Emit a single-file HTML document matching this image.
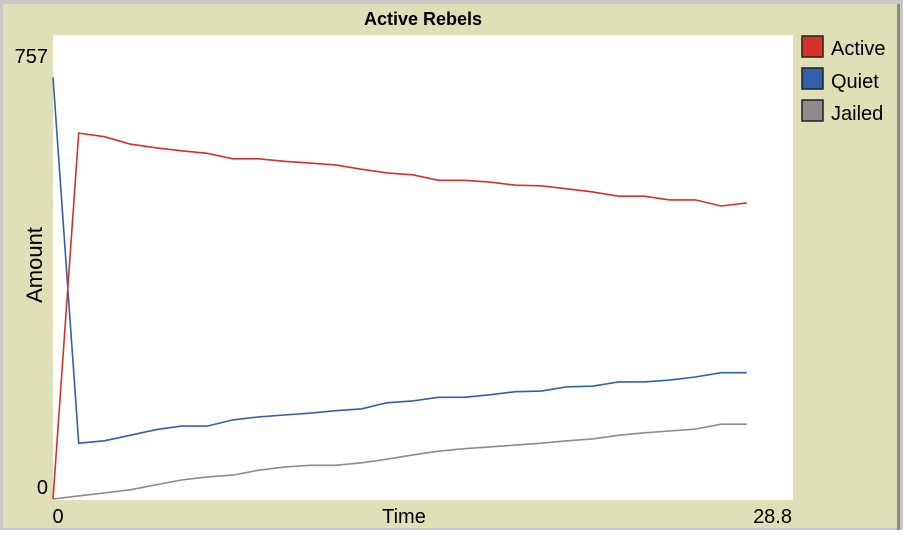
<!DOCTYPE html>
<html><head><meta charset="utf-8"><style>
body{margin:0;width:903px;height:530px;overflow:hidden;background:#fff;font-family:"Liberation Sans","DejaVu Sans",sans-serif}
</style></head><body>
<svg width="903" height="530" xmlns="http://www.w3.org/2000/svg">
<rect x="0" y="0" width="903" height="530" fill="#c8c8c8"/>
<rect x="3" y="4" width="894" height="524" fill="#dfdfb8"/>
<rect x="897" y="4" width="3" height="526" fill="#8a8a78"/>
<text x="423" y="25" text-anchor="middle" font-size="18" font-weight="bold">Active Rebels</text>
<rect x="53" y="35" width="740" height="465" fill="#fff"/>
<text x="48" y="63" text-anchor="end" font-size="20">757</text>
<text x="48" y="494" text-anchor="end" font-size="20">0</text>
<text x="58" y="523" text-anchor="middle" font-size="20">0</text>
<text x="792" y="523" text-anchor="end" font-size="20">28.8</text>
<text x="404" y="523" text-anchor="middle" font-size="20">Time</text>
<text transform="translate(42,265) rotate(-90)" text-anchor="middle" font-size="22">Amount</text>
<g id="series"></g>
<g>
<rect x="802" y="36" width="21" height="21" fill="#d8302a" stroke="#222" stroke-width="1.5"/>
<text x="831" y="55" font-size="20">Active</text>
<rect x="802" y="68" width="21" height="21" fill="#3260ad" stroke="#222" stroke-width="1.5"/>
<text x="831" y="88" font-size="20">Quiet</text>
<rect x="802" y="100" width="21" height="21" fill="#8c8c8c" stroke="#222" stroke-width="1.5"/>
<text x="831" y="120" font-size="20">Jailed</text>
</g>
</svg>
<script>
const times=[0,1,2,3,4,5,6,7,8,9,10,11,12,13,14,15,16,17,18,19,20,21,22,23,24,25,26,27];
const activeVals=[0,597,591,579,573,568,564,555,555,551,548,545,538,532,529,520,520,517,512,511,506,501,494,494,488,488,478,483];
const quietVals=[688,91,95,104,113,119,119,129,134,137,140,144,147,157,160,166,166,170,175,176,183,184,191,191,194,199,206,206];
const jailedVals=[0,5,10,15,23,31,36,39,47,52,55,55,59,65,72,78,82,85,88,91,95,98,104,108,111,114,122,122];
const xMax=28.8,yMax=757;
function xs(t){return 53+t/xMax*740;}
function ys(v){return 499-v/yMax*464;}
const g=document.getElementById('series');
function draw(vals,color,name){
  const p=document.createElementNS('http://www.w3.org/2000/svg','polyline');
  p.setAttribute('points',vals.map((v,i)=>xs(times[i]).toFixed(1)+','+ys(v).toFixed(1)).join(' '));
  p.setAttribute('fill','none');p.setAttribute('stroke',color);p.setAttribute('stroke-width','1.6');
  
  
  g.appendChild(p);
}
draw(jailedVals,'#8c8c8c','jailed-line');
draw(quietVals,'#3260ad','quiet-line');
draw(activeVals,'#d8302a','active-line');
</script>
</body></html>
